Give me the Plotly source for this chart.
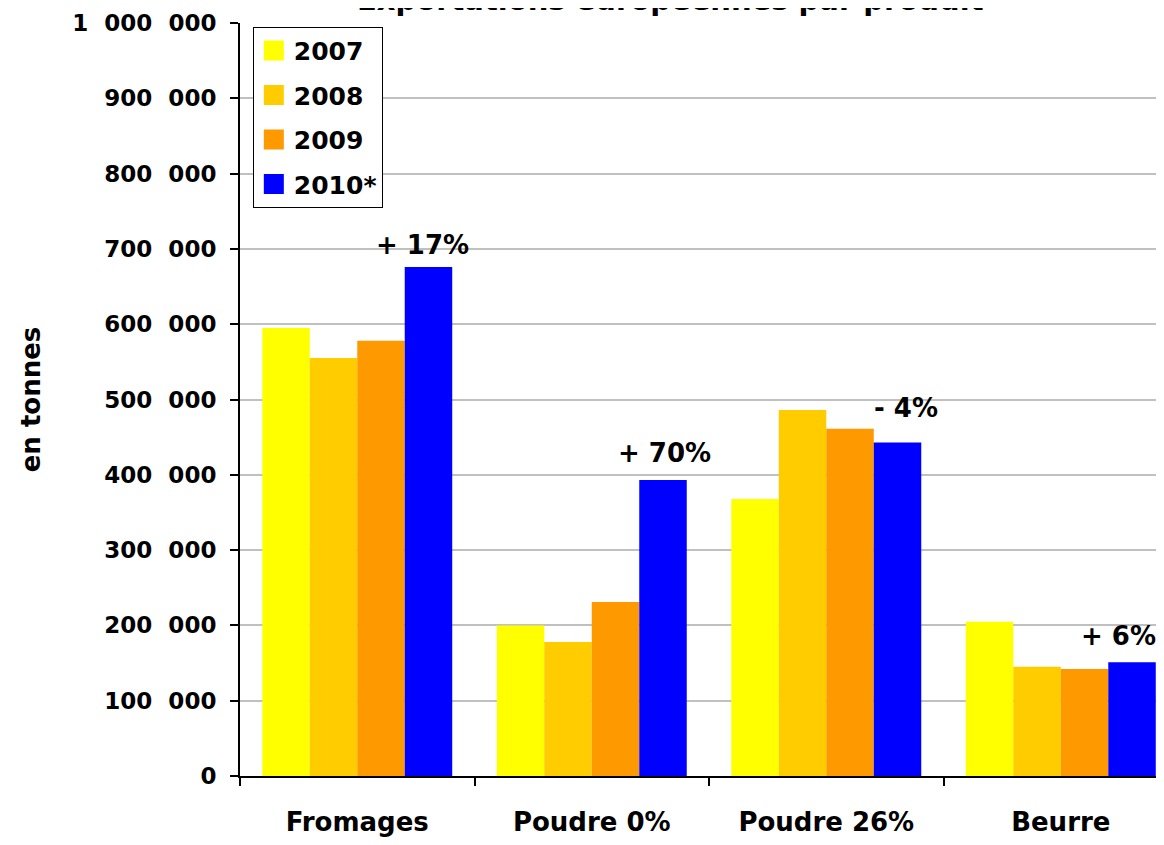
import plotly.graph_objects as go

# data
products = ["Fromages", "Poudre 0%", "Poudre 26%", "Beurre"]
years = ["2007", "2008", "2009", "2010*"]
v2007 = [595000, 200000, 368000, 205000]
v2008 = [555000, 178000, 486000, 145000]
v2009 = [578000, 231000, 461000, 142000]
v2010 = [676000, 393000, 443000, 151000]
pct_labels = ["+ 17%", "+ 70%", "- 4%", "+ 6%"]
y_ticks = [0, 100000, 200000, 300000, 400000, 500000,
           600000, 700000, 800000, 900000, 1000000]

colors = ["#FFFF00", "#FFCC00", "#FF9900", "#0000FF"]
FONT = "DejaVu Sans"

fig = go.Figure()
for name, vals, col in zip(years, [v2007, v2008, v2009, v2010], colors):
    fig.add_trace(go.Bar(x=products, y=vals, name=name, marker_color=col,
                         marker_line_width=0, showlegend=False))

# legend entries: empty square-marker traces give bigger swatches
for name, col in zip(years, colors):
    fig.add_trace(go.Scatter(x=[None], y=[None], mode="markers", name=name,
                             legendgroup=name,
                             marker=dict(symbol="square", size=16, color=col,
                                         line=dict(color=col, width=4))))

# percentage labels above the 2010 bars
label_xshift = [65, 73, 80, 58]
label_yshift = [22, 27, 34, 26]
for prod, val, txt, dx, dy in zip(products, v2010, pct_labels,
                                  label_xshift, label_yshift):
    fig.add_annotation(x=prod, y=val, text=f"<b>{txt}</b>", showarrow=False,
                       xshift=dx, yshift=dy, yanchor="middle",
                       font=dict(family=FONT, size=26, color="black"))

# title, mostly cut off by the top of the picture
fig.add_annotation(xref="paper", yref="paper", x=0.47, y=1.0055,
                   yanchor="bottom", showarrow=False,
                   text="<b>Exportations européennes par produit</b>",
                   font=dict(family=FONT, size=29, color="black"))

tick_text = [f"{v:,}".replace(",", "\u2007") for v in y_ticks]

# page body has an 8px margin all round, so the figure is sized to fit it
fig.update_layout(
    width=1148, height=829,
    margin=dict(l=232, r=0, t=15, b=54),
    paper_bgcolor="white", plot_bgcolor="white",
    barmode="group", bargap=0.19, bargroupgap=0,
    font=dict(family=FONT, color="black", size=22),
    legend=dict(x=0.014, y=0.995, xanchor="left", yanchor="top",
                bgcolor="white", bordercolor="black", borderwidth=1,
                font=dict(family=FONT, size=25, color="black", weight="bold"),
                tracegroupgap=9, itemclick=False),
    xaxis=dict(range=[-0.5, 3.406], showline=True, linecolor="black",
               linewidth=2, ticks="outside", tickson="boundaries",
               ticklen=8, tickwidth=2, tickcolor="black",
               ticklabelstandoff=22, showgrid=False,
               tickfont=dict(family=FONT, size=26, weight="bold")),
    yaxis=dict(range=[0, 1000000], tickvals=y_ticks, ticktext=tick_text,
               showline=True, linecolor="black", linewidth=2,
               ticks="outside", ticklen=8, tickwidth=2, tickcolor="black",
               ticklabelstandoff=9,
               showgrid=True, gridcolor="#C0C0C0", gridwidth=2,
               zeroline=False,
               tickfont=dict(family=FONT, size=23, weight="bold"),
               title=dict(text="<b>en tonnes</b>", standoff=24,
                          font=dict(family=FONT, size=26))),
)

fig.write_html("out.html")
